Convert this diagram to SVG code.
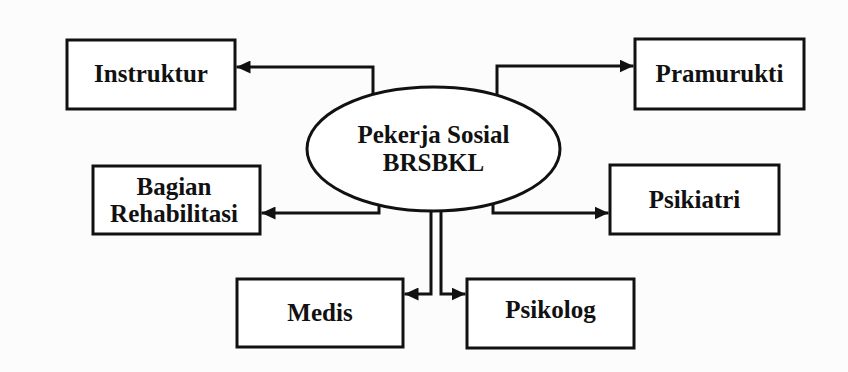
<svg xmlns="http://www.w3.org/2000/svg" width="848" height="372" viewBox="0 0 848 372">
  <defs>
    <marker id="arr" markerUnits="userSpaceOnUse" markerWidth="15" markerHeight="13" refX="14" refY="6.5" orient="auto">
      <path d="M0,0 L14,6.5 L0,13 z" fill="#111"/>
    </marker>
    <style>
      .box { fill: #fff; stroke: #111; stroke-width: 3; }
      .ell { fill: #fff; stroke: #111; stroke-width: 3; }
      .lbl { font-family: "Liberation Serif", "Times New Roman", serif; font-weight: bold; font-size: 25px; fill: #111; text-anchor: middle; }
      .con { fill: none; stroke: #111; stroke-width: 3; marker-end: url(#arr); }
    </style>
  </defs>
  <rect width="848" height="372" fill="#fcfcfc"/>
  <g id="connectors">
    <path class="con" d="M373,95 V67 H236.5"/>
    <path class="con" d="M497,95 V66 H633.5"/>
    <path class="con" d="M379,205 V213 H261.5"/>
    <path class="con" d="M493,204 V213 H608.5"/>
    <path class="con" d="M431,211 V294 H404.5"/>
    <path class="con" d="M441,211 V294 H465.5"/>
  </g>
  <g id="center">
    <ellipse class="ell" cx="433.5" cy="149" rx="126.5" ry="62"/>
    <text class="lbl" x="433.5" y="143">Pekerja Sosial</text>
    <text class="lbl" x="433.5" y="171">BRSBKL</text>
  </g>
  <g id="instruktur">
    <rect class="box" x="67" y="40" width="168" height="69"/>
    <text class="lbl" x="151" y="82">Instruktur</text>
  </g>
  <g id="pramurukti">
    <rect class="box" x="635" y="39" width="169" height="70"/>
    <text class="lbl" x="719.5" y="82">Pramurukti</text>
  </g>
  <g id="bagian-rehabilitasi">
    <rect class="box" x="93" y="166" width="167" height="68"/>
    <text class="lbl" x="174" y="195">Bagian</text>
    <text class="lbl" x="174" y="222">Rehabilitasi</text>
  </g>
  <g id="psikiatri">
    <rect class="box" x="610" y="165" width="169" height="69"/>
    <text class="lbl" x="694.5" y="208">Psikiatri</text>
  </g>
  <g id="medis">
    <rect class="box" x="237" y="279" width="166" height="68"/>
    <text class="lbl" x="320" y="321">Medis</text>
  </g>
  <g id="psikolog">
    <rect class="box" x="467" y="279" width="167" height="69"/>
    <text class="lbl" x="550.5" y="318">Psikolog</text>
  </g>
</svg>
